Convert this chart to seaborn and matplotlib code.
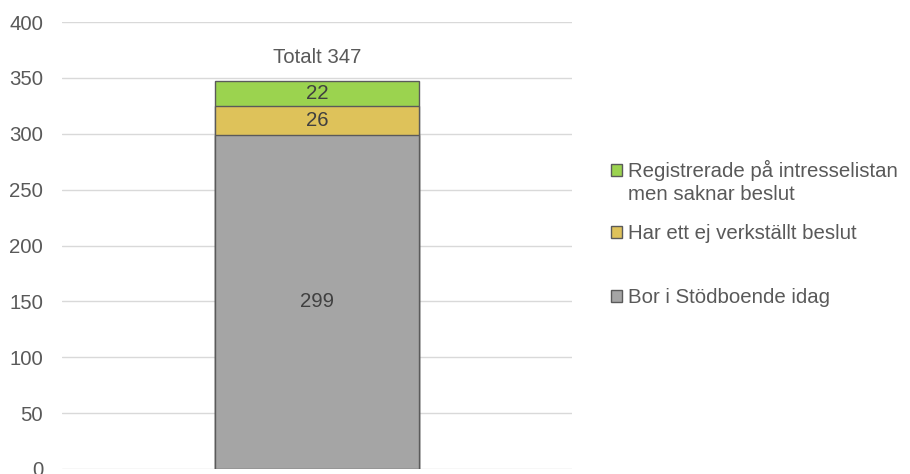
import matplotlib
matplotlib.use("Agg")
import matplotlib.pyplot as plt
import seaborn as sns
import pandas as pd
import numpy as np

categories = ["Totalt"]
series_names = ["Bor i Stödboende idag", "Har ett ej verkställt beslut",
                "Registrerade på intresselistan\nmen saknar beslut"]
series_values = [299, 26, 22]
colors = ["#A5A5A5", "#DEC25A", "#9BD34F"]
yticks = [0, 50, 100, 150, 200, 250, 300, 350, 400]

FS = 14.7
TXT = "#595959"

sns.set_theme(style="white")
plt.rcParams['font.family'] = ['Liberation Sans', 'DejaVu Sans']

fig = plt.figure(figsize=(9.1, 4.74), dpi=100)
ax = fig.add_axes([62/910, 1-469/474, 510/910, 447/474])

cum = np.cumsum(series_values)
# draw stacked bars from top to bottom
for i in range(len(series_values) - 1, -1, -1):
    df = pd.DataFrame({"cat": categories, "val": [cum[i]]})
    sns.barplot(data=df, x="cat", y="val", color=colors[i], width=1.0,
                edgecolor="#5A5A5A", linewidth=1.0, saturation=1, ax=ax,
                label=series_names[i], zorder=3)

for i, v in enumerate(series_values):
    bottom = cum[i] - v
    ax.text(0, bottom + v / 2, str(v), ha="center", va="center",
            fontsize=FS, color="#404040", zorder=5)

ax.annotate(f"Totalt {cum[-1]}", xy=(0, cum[-1]), xytext=(0, 13),
            textcoords="offset points", ha="center", va="baseline",
            fontsize=FS, color=TXT)

ax.set_xlim(-1.25, 1.25)
ax.set_ylim(0, 400)
ax.set_yticks(yticks)
ax.set_yticklabels([str(t) for t in yticks], fontsize=FS, color=TXT)
ax.set_xticks([])
ax.set_xlabel("")
ax.set_ylabel("")
ax.grid(axis="y", color="#D9D9D9", linewidth=1.0, zorder=0)
ax.set_axisbelow(True)
for s in ax.spines.values():
    s.set_visible(False)
ax.tick_params(axis="y", length=0, pad=13.5)

handles, labels = ax.get_legend_handles_labels()
if ax.get_legend():
    ax.get_legend().remove()
hmap = dict(zip(labels, handles))
ypos = [297.5, 234, 170.5]
for name, y in zip(series_names, ypos):
    h = hmap[name]
    lines = name.split("\n")
    leg = fig.legend([h], [lines[0]], loc="center left",
                     bbox_to_anchor=(611/910, 1 - y/474), frameon=False,
                     fontsize=FS, handlelength=0.55, handleheight=0.55,
                     handletextpad=0.3, borderpad=0, borderaxespad=0)
    for t in leg.get_texts():
        t.set_color(TXT)
    for k, extra in enumerate(lines[1:], start=1):
        fig.text(628/910, 1 - (y + 24 * k)/474, extra, ha="left", va="center",
                 fontsize=FS, color=TXT)

fig.savefig("out.png", dpi=100)
